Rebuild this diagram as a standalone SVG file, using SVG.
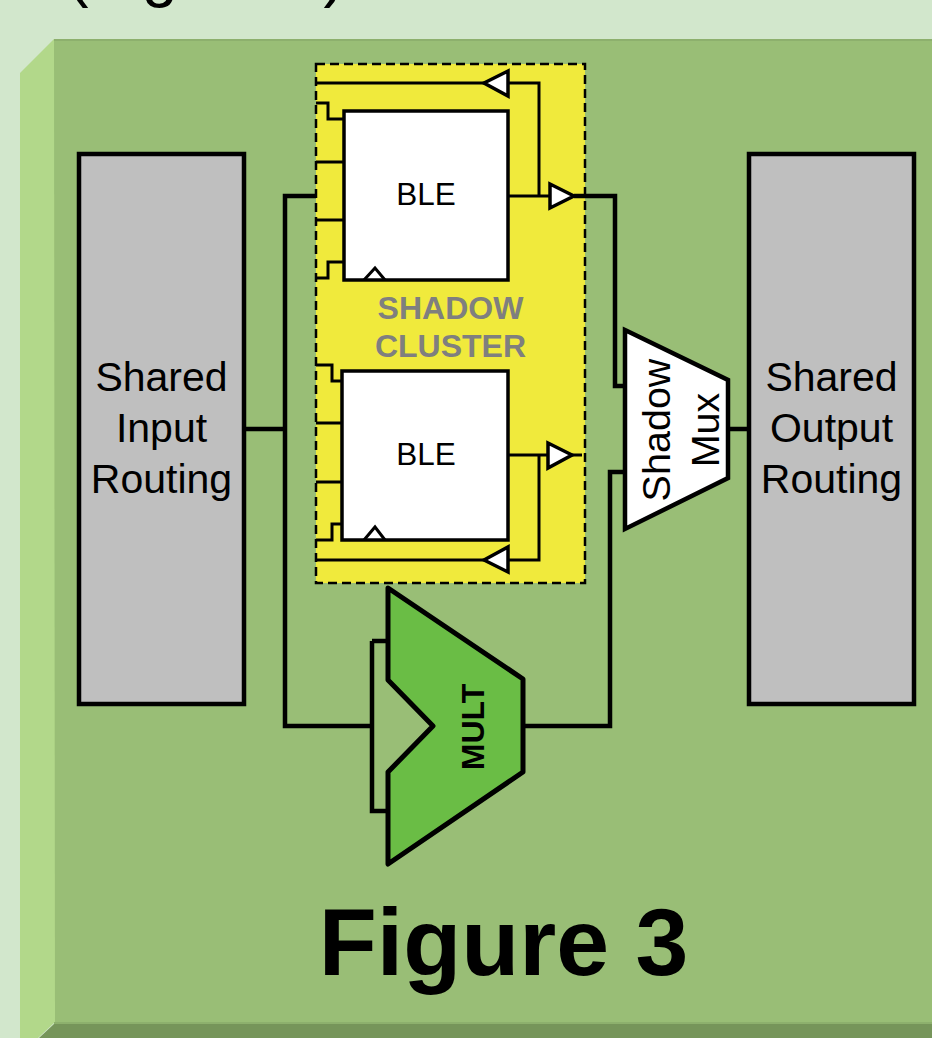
<svg xmlns="http://www.w3.org/2000/svg" width="932" height="1038" viewBox="0 0 932 1038">
<style>
text{font-family:"Liberation Sans",Arial,sans-serif;fill:#000;text-anchor:middle}
.w{fill:none;stroke:#000;stroke-width:3;stroke-linejoin:miter}
.t{fill:none;stroke:#000;stroke-width:4.500;stroke-linejoin:miter}
.s{fill:#fff;stroke:#000;stroke-width:3.500;stroke-linejoin:miter}
.m{fill:#fff;stroke:#000;stroke-width:4.500;stroke-linejoin:miter}
.g{fill:#BFBFBF;stroke:#000;stroke-width:4.500}
.r{font-size:41px}
.b{font-size:31.500px}
.c{font-size:32px;font-weight:bold;fill:#7F7F7F}
</style>
<rect width="932" height="1038" fill="#D2E7CC"/>
<text x="206" y="-5" font-size="64">(Figure 3)</text>
<g id="panel">
<rect x="54" y="39" width="878" height="999" fill="#99BE76"/>
<rect x="54" y="39" width="878" height="2" fill="#8DB06D"/>
<polygon points="20,73 54,39 55,1022 38,1038 20,1038" fill="#B2D88A"/>
<polygon points="54,1024 932,1024 932,1038 39,1038" fill="#76955A"/>
<rect x="54" y="1022" width="878" height="2" fill="#8DB06D"/>
</g>
<g id="shadow-cluster">
<rect x="316" y="64" width="269" height="519" fill="#F0EA3C" stroke="#000" stroke-width="2.500" stroke-dasharray="9 5"/>
<text class="c" x="450.500" y="319">SHADOW</text>
<text class="c" x="450.500" y="357">CLUSTER</text>
</g>
<g id="connectors">
<path class="t" d="M246 429H285M316 196H285V726H372M372 641H388M372 641V811H388"/>
<path class="t" d="M523 726H610V472H625M574 196H615V386H625M728 429H749"/>
<path class="w" d="M316 83H484M508 83H539V196M508 196H549M574 196H585"/>
<path class="w" d="M316 103H328V119H344M316 162H344M316 220H344M316 278H328V262H344"/>
<path class="w" d="M316 365H332V381H342M316 423H342M316 482H342M316 540H332V524H342"/>
<path class="w" d="M508 455H548M572 455H582M539 455V560H508M484 560H316"/>
</g>
<g id="input-routing">
<rect class="g" x="79" y="154" width="165" height="550"/>
<text class="r" x="161.500" y="391">Shared</text>
<text class="r" x="161.500" y="442">Input</text>
<text class="r" x="161.500" y="493">Routing</text>
</g>
<g id="output-routing">
<rect class="g" x="749" y="154" width="165" height="550"/>
<text class="r" x="831.500" y="391">Shared</text>
<text class="r" x="831.500" y="442">Output</text>
<text class="r" x="831.500" y="493">Routing</text>
</g>
<g id="ble-1">
<rect class="s" x="344" y="111" width="164" height="169"/>
<path class="w" d="M364 280L375 268L385 280"/>
<text class="b" x="426" y="205">BLE</text>
</g>
<g id="ble-2">
<rect class="s" x="342" y="371" width="166" height="169"/>
<path class="w" d="M364 540L375 527L385 540"/>
<text class="b" x="426" y="465">BLE</text>
</g>
<g id="buffers">
<polygon class="s" points="484,83 508,71 508,96"/>
<polygon class="s" points="574,196 550,184 550,208"/>
<polygon class="s" points="572,455 548,443 548,468"/>
<polygon class="s" points="484,560 508,547 508,572"/>
</g>
<g id="shadow-mux">
<polygon class="m" points="625,330 728,380 728,478 625,529"/>
<text font-size="39.500" transform="translate(670 430) rotate(-90)">Shadow</text>
<text font-size="39.500" transform="translate(719 430) rotate(-90)">Mux</text>
</g>
<g id="mult">
<polygon fill="#6ABD45" stroke="#000" stroke-width="5" stroke-linejoin="round" points="388,588 523,679 523,772 388,864 388,772 433,726 388,680"/>
<text font-size="32" font-weight="bold" transform="translate(484 727) rotate(-90)">MULT</text>
</g>
<text id="caption" x="503.500" y="975" font-size="95" font-weight="bold">Figure 3</text>
</svg>
